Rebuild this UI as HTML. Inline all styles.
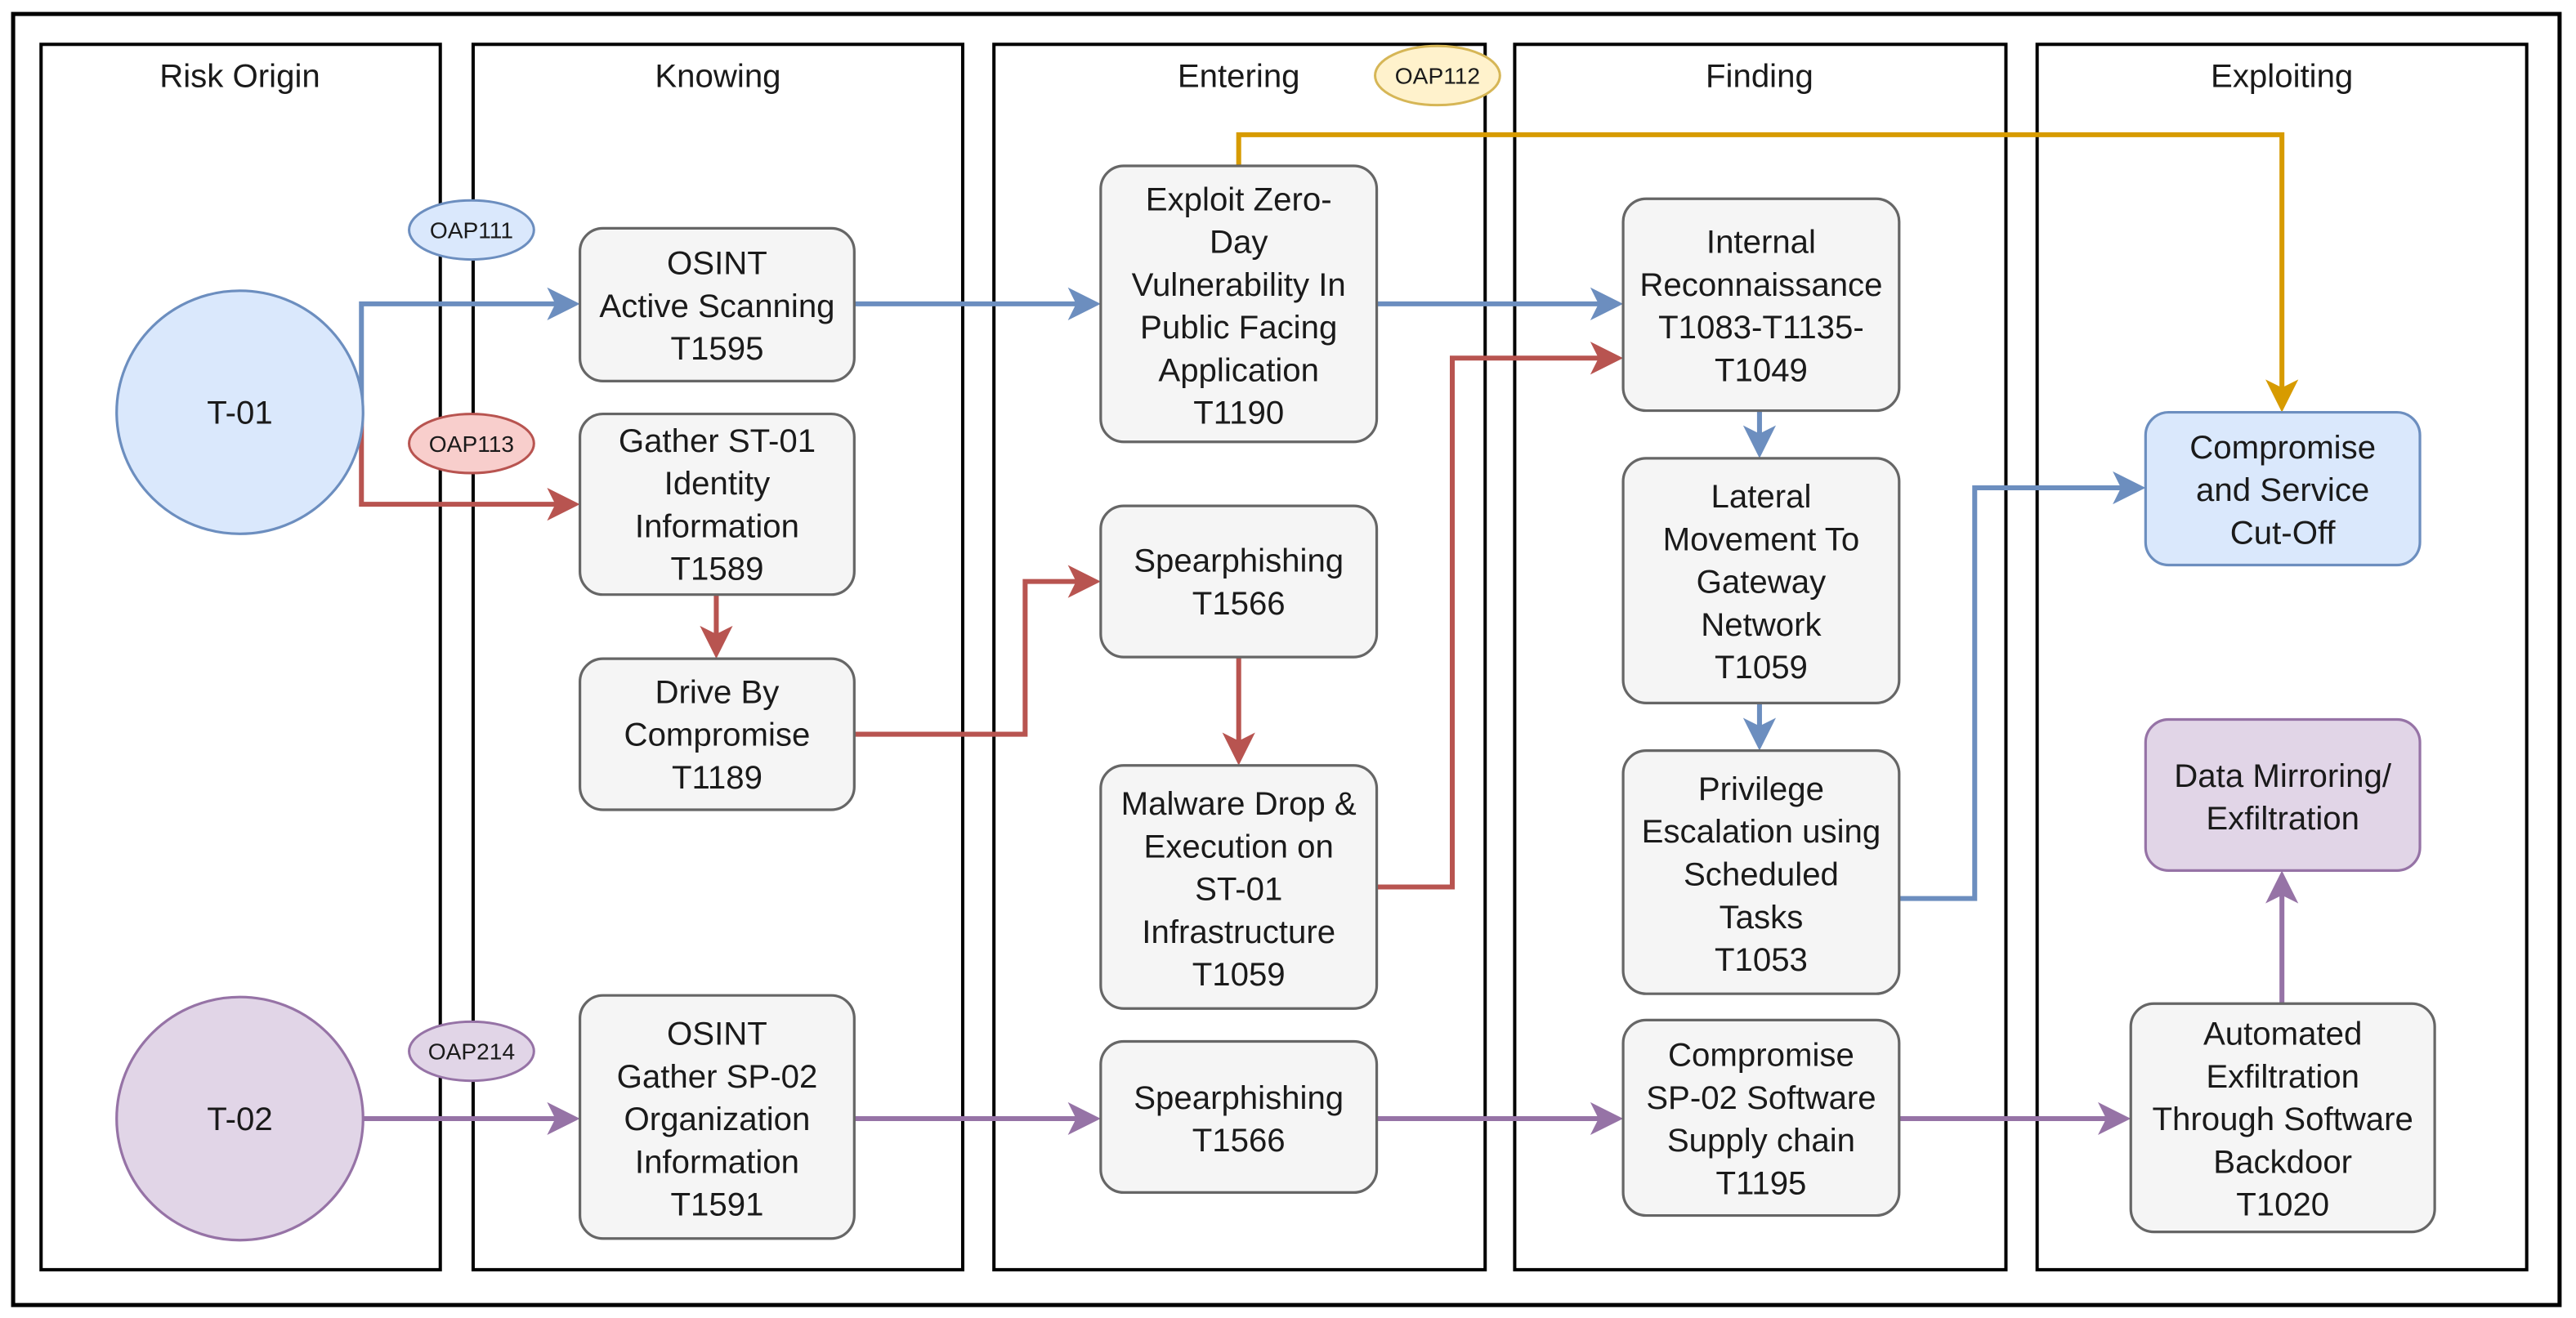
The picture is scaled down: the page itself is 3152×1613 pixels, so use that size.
<!DOCTYPE html>
<html><head><meta charset="utf-8"><style>html,body{margin:0;padding:0;background:#fff}svg{display:block}text{font-family:"Liberation Sans",Arial,sans-serif;fill:#1a1a1a}</style></head><body>
<svg width="3152" height="1613" viewBox="0 0 1568 802.4" preserveAspectRatio="none" xmlns="http://www.w3.org/2000/svg">
<defs>
<marker id="mb" markerWidth="8" markerHeight="8" refX="7" refY="4" orient="auto" markerUnits="userSpaceOnUse" viewBox="0 0 8 8"><path d="M0,0 L8,4 L0,8 L2,4z" fill="#6c8ebf"/></marker>
</defs>
<style>
.col{fill:#fff;stroke:#000;stroke-width:2}
.bx{fill:#f5f5f5;stroke:#666;stroke-width:1.6}
.t{font-size:20px;text-anchor:middle}
.h{font-size:20px;text-anchor:middle}
.e{fill:none;stroke-width:3}
</style>
<rect x="8" y="8.5" width="1550" height="786" fill="#fff" stroke="#000" stroke-width="2.5"/>
<rect class="col" x="25" y="27" width="243" height="746"/>
<rect class="col" x="288" y="27" width="298" height="746"/>
<rect class="col" x="605" y="27" width="299" height="746"/>
<rect class="col" x="922" y="27" width="299" height="746"/>
<rect class="col" x="1240" y="27" width="298" height="746"/>
<text class="h" x="146" y="53">Risk Origin</text>
<text class="h" x="437" y="53">Knowing</text>
<text class="h" x="754" y="53">Entering</text>
<text class="h" x="1071" y="53">Finding</text>
<text class="h" x="1389" y="53">Exploiting</text>

<!-- connectors -->
<g class="e">
<path d="M220,251 V185 H345" stroke="#6c8ebf"/>
<path d="M520,185 H662" stroke="#6c8ebf"/>
<path d="M838,185 H980" stroke="#6c8ebf"/>
<path d="M1071,250 V272" stroke="#6c8ebf"/>
<path d="M1071,428 V450" stroke="#6c8ebf"/>
<path d="M1156,547 H1202 V297 H1298" stroke="#6c8ebf"/>
<path d="M220,251 V307 H345" stroke="#b85450"/>
<path d="M436,362 V394" stroke="#b85450"/>
<path d="M520,447 H624 V354 H662" stroke="#b85450"/>
<path d="M754,400 V459" stroke="#b85450"/>
<path d="M838,540 H884 V218 H980" stroke="#b85450"/>
<path d="M754,101 V82 H1389 V243" stroke="#d79b00"/>
<path d="M220,681 H345" stroke="#9673a6"/>
<path d="M520,681 H662" stroke="#9673a6"/>
<path d="M838,681 H980" stroke="#9673a6"/>
<path d="M1156,681 H1289" stroke="#9673a6"/>
<path d="M1389,611 V538" stroke="#9673a6"/>
</g>
<!-- arrowheads -->
<g>
<path d="M353,185 l-20,-10 l5,10 l-5,10z" fill="#6c8ebf"/>
<path d="M670,185 l-20,-10 l5,10 l-5,10z" fill="#6c8ebf"/>
<path d="M988,185 l-20,-10 l5,10 l-5,10z" fill="#6c8ebf"/>
<path d="M1306,297 l-20,-10 l5,10 l-5,10z" fill="#6c8ebf"/>
<path d="M1071,279 l-10,-20 l10,5 l10,-5z" fill="#6c8ebf"/>
<path d="M1071,457 l-10,-20 l10,5 l10,-5z" fill="#6c8ebf"/>
<path d="M353,307 l-20,-10 l5,10 l-5,10z" fill="#b85450"/>
<path d="M670,354 l-20,-10 l5,10 l-5,10z" fill="#b85450"/>
<path d="M988,218 l-20,-10 l5,10 l-5,10z" fill="#b85450"/>
<path d="M436,401 l-10,-20 l10,5 l10,-5z" fill="#b85450"/>
<path d="M754,466 l-10,-20 l10,5 l10,-5z" fill="#b85450"/>
<path d="M1389,251 l-10,-20 l10,5 l10,-5z" fill="#d79b00"/>
<path d="M353,681 l-20,-10 l5,10 l-5,10z" fill="#9673a6"/>
<path d="M670,681 l-20,-10 l5,10 l-5,10z" fill="#9673a6"/>
<path d="M988,681 l-20,-10 l5,10 l-5,10z" fill="#9673a6"/>
<path d="M1297,681 l-20,-10 l5,10 l-5,10z" fill="#9673a6"/>
<path d="M1389,530 l-10,20 l10,-5 l10,5z" fill="#9673a6"/>
</g>

<!-- origins -->
<ellipse cx="146" cy="251" rx="75" ry="74" fill="#dae8fc" stroke="#6c8ebf" stroke-width="1.6"/>
<text class="t" x="146" y="258">T-01</text>
<ellipse cx="146" cy="681" rx="75" ry="74" fill="#e1d5e7" stroke="#9673a6" stroke-width="1.6"/>
<text class="t" x="146" y="688">T-02</text>

<!-- OAP labels -->
<g style="font-size:14px">
<ellipse cx="287" cy="140" rx="38" ry="18" fill="#dae8fc" stroke="#6c8ebf" stroke-width="1.5"/>
<text x="287" y="145" text-anchor="middle" style="font-size:14px">OAP111</text>
<ellipse cx="287" cy="270" rx="38" ry="18" fill="#f8cecc" stroke="#b85450" stroke-width="1.5"/>
<text x="287" y="275" text-anchor="middle" style="font-size:14px">OAP113</text>
<ellipse cx="287" cy="640" rx="38" ry="18" fill="#e1d5e7" stroke="#9673a6" stroke-width="1.5"/>
<text x="287" y="645" text-anchor="middle" style="font-size:14px">OAP214</text>
<ellipse cx="875" cy="46" rx="38" ry="18" fill="#fff2cc" stroke="#d6b656" stroke-width="1.5"/>
<text x="875" y="51" text-anchor="middle" style="font-size:14px">OAP112</text>
</g>

<!-- boxes -->
<rect class="bx" x="353" y="139" width="167" height="93" rx="14"/>
<text class="t" x="436.5"><tspan x="436.5" y="167">OSINT</tspan><tspan x="436.5" y="193">Active Scanning</tspan><tspan x="436.5" y="219">T1595</tspan></text>
<rect class="bx" x="353" y="252" width="167" height="110" rx="14"/>
<text class="t"><tspan x="436.5" y="275">Gather ST-01</tspan><tspan x="436.5" y="301">Identity</tspan><tspan x="436.5" y="327">Information</tspan><tspan x="436.5" y="353">T1589</tspan></text>
<rect class="bx" x="353" y="401" width="167" height="92" rx="14"/>
<text class="t"><tspan x="436.5" y="428">Drive By</tspan><tspan x="436.5" y="454">Compromise</tspan><tspan x="436.5" y="480">T1189</tspan></text>
<rect class="bx" x="353" y="606" width="167" height="148" rx="14"/>
<text class="t"><tspan x="436.5" y="636">OSINT</tspan><tspan x="436.5" y="662">Gather SP-02</tspan><tspan x="436.5" y="688">Organization</tspan><tspan x="436.5" y="714">Information</tspan><tspan x="436.5" y="740">T1591</tspan></text>

<rect class="bx" x="670" y="101" width="168" height="168" rx="14"/>
<text class="t"><tspan x="754" y="128">Exploit Zero-</tspan><tspan x="754" y="154">Day</tspan><tspan x="754" y="180">Vulnerability In</tspan><tspan x="754" y="206">Public Facing</tspan><tspan x="754" y="232">Application</tspan><tspan x="754" y="258">T1190</tspan></text>
<rect class="bx" x="670" y="308" width="168" height="92" rx="14"/>
<text class="t"><tspan x="754" y="348">Spearphishing</tspan><tspan x="754" y="374">T1566</tspan></text>
<rect class="bx" x="670" y="466" width="168" height="148" rx="14"/>
<text class="t"><tspan x="754" y="496">Malware Drop &amp;</tspan><tspan x="754" y="522">Execution on</tspan><tspan x="754" y="548">ST-01</tspan><tspan x="754" y="574">Infrastructure</tspan><tspan x="754" y="600">T1059</tspan></text>
<rect class="bx" x="670" y="634" width="168" height="92" rx="14"/>
<text class="t"><tspan x="754" y="675">Spearphishing</tspan><tspan x="754" y="701">T1566</tspan></text>

<rect class="bx" x="988" y="121" width="168" height="129" rx="14"/>
<text class="t"><tspan x="1072" y="154">Internal</tspan><tspan x="1072" y="180">Reconnaissance</tspan><tspan x="1072" y="206">T1083-T1135-</tspan><tspan x="1072" y="232">T1049</tspan></text>
<rect class="bx" x="988" y="279" width="168" height="149" rx="14"/>
<text class="t"><tspan x="1072" y="309">Lateral</tspan><tspan x="1072" y="335">Movement To</tspan><tspan x="1072" y="361">Gateway</tspan><tspan x="1072" y="387">Network</tspan><tspan x="1072" y="413">T1059</tspan></text>
<rect class="bx" x="988" y="457" width="168" height="148" rx="14"/>
<text class="t"><tspan x="1072" y="487">Privilege</tspan><tspan x="1072" y="513">Escalation using</tspan><tspan x="1072" y="539">Scheduled</tspan><tspan x="1072" y="565">Tasks</tspan><tspan x="1072" y="591">T1053</tspan></text>
<rect class="bx" x="988" y="621" width="168" height="119" rx="14"/>
<text class="t"><tspan x="1072" y="649">Compromise</tspan><tspan x="1072" y="675">SP-02 Software</tspan><tspan x="1072" y="701">Supply chain</tspan><tspan x="1072" y="727">T1195</tspan></text>

<rect x="1306" y="251" width="167" height="93" rx="14" fill="#dae8fc" stroke="#6c8ebf" stroke-width="1.6"/>
<text class="t"><tspan x="1389.5" y="279">Compromise</tspan><tspan x="1389.5" y="305">and Service</tspan><tspan x="1389.5" y="331">Cut-Off</tspan></text>
<rect x="1306" y="438" width="167" height="92" rx="14" fill="#e1d5e7" stroke="#9673a6" stroke-width="1.6"/>
<text class="t"><tspan x="1389.5" y="479">Data Mirroring/</tspan><tspan x="1389.5" y="505">Exfiltration</tspan></text>
<rect class="bx" x="1297" y="611" width="185" height="139" rx="14"/>
<text class="t"><tspan x="1389.5" y="636">Automated</tspan><tspan x="1389.5" y="662">Exfiltration</tspan><tspan x="1389.5" y="688">Through Software</tspan><tspan x="1389.5" y="714">Backdoor</tspan><tspan x="1389.5" y="740">T1020</tspan></text>
</svg>
</body></html>
